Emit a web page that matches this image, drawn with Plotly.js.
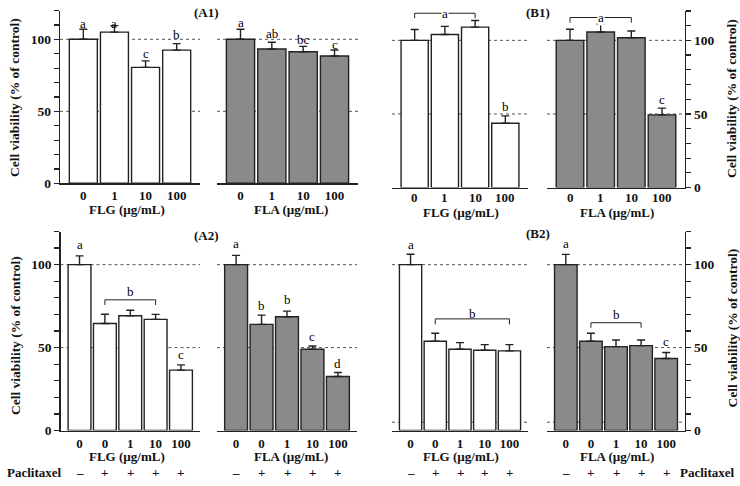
<!DOCTYPE html>
<html>
<head>
<meta charset="utf-8">
<script src="https://cdn.plot.ly/plotly-3.0.1.min.js"></script>
<style>html,body{margin:0;padding:0;background:#fff;}#chart{width:740px;height:486px;}</style>
</head>
<body>
<div id="chart"></div>
<script>
// ---------- data ----------
const doseRow1 = ['0', '1', '10', '100'];
const doseRow2 = ['0', '0', '1', '10', '100'];
const paclitaxel = ['–', '+', '+', '+', '+'];

const a1FLG = [100, 105, 80.5, 92.5];
const a1FLGerr = [7, 4.5, 4.5, 4.5];
const a1FLA = [100, 93.3, 91.4, 88.4];
const a1FLAerr = [7, 4.7, 3.7, 4.2];

const b1FLG = [100, 104, 109, 43.7];
const b1FLGerr = [7.4, 5.5, 4.5, 5];
const b1FLA = [100, 105.7, 101.8, 49.4];
const b1FLAerr = [7.5, 5.2, 4.6, 4.6];

const a2FLG = [100, 64.5, 69.2, 67, 36.4];
const a2FLGerr = [5.3, 5.6, 3.3, 3, 3.2];
const a2FLA = [100, 64, 68.6, 49, 32.6];
const a2FLAerr = [5.6, 5.6, 3.4, 2, 2.4];

const b2FLG = [100, 53.8, 49, 48.4, 48];
const b2FLGerr = [6.3, 4.8, 4, 3.4, 3.8];
const b2FLA = [100, 53.8, 50.6, 51.2, 43.4];
const b2FLAerr = [6.2, 4.8, 4, 3.4, 3.6];

const a1FLGletters = ['a', 'a', 'c', 'b'];
const a1FLAletters = ['a', 'ab', 'bc', 'c'];
const b1FLGletters = ['', '', '', 'b'];
const b1FLAletters = ['', '', '', 'c'];
const a2FLGletters = ['a', '', '', '', 'c'];
const a2FLAletters = ['a', 'b', 'b', 'c', 'd'];
const b2FLGletters = ['a', '', '', '', ''];
const b2FLAletters = ['a', '', '', '', 'c'];

// ---------- layout constants ----------
const W = 740, H = 486;
const FONT = 'Liberation Serif, Times New Roman, serif';
const GRAY = '#8a8a8a';
const INK = '#222';

const panels = [
  {x:[60,200], y:[10.5,183.3], cats:doseRow1, vals:a1FLG, errs:a1FLGerr, fill:'#ffffff', yside:'left',
   letters:a1FLGletters, letterY:[111.2,111.2,90.3,103], grids:[50,100]},
  {x:[217,358], y:[10.5,183.3], cats:doseRow1, vals:a1FLA, errs:a1FLAerr, fill:GRAY, yside:null,
   letters:a1FLAletters, letterY:[111.6,104,100,96.5], grids:[50,100]},
  {x:[392,528], y:[10.9,187.6], cats:doseRow1, vals:b1FLG, errs:b1FLGerr, fill:'#ffffff', yside:null,
   letters:b1FLGletters, letterY:[0,0,0,55.3], grids:[50,100], tickY:197.5,
   bracket:{from:0, to:2, top:118.4, drop:115, label:'a', inline:true}},
  {x:[547,685], y:[10.9,187.6], cats:doseRow1, vals:b1FLA, errs:b1FLAerr, fill:GRAY, yside:'right',
   letters:b1FLAletters, letterY:[0,0,0,60], grids:[50,100], tickY:197.5,
   bracket:{from:0, to:2, top:115.5, drop:112, label:'a', inline:true}},
  {x:[60.5,200], y:[231.5,430.5], cats:doseRow2, vals:a2FLG, errs:a2FLGerr, fill:'#ffffff', yside:'left',
   letters:a2FLGletters, letterY:[112,0,0,0,45.6], grids:[50,100],
   bracket:{from:1, to:3, top:78.8, drop:75.7, label:'b', labelY:83.8}},
  {x:[217,357], y:[231.5,430.5], cats:doseRow2, vals:a2FLA, errs:a2FLAerr, fill:GRAY, yside:null,
   letters:a2FLAletters, letterY:[112.7,75.2,78.8,56.6,40.6], grids:[50,100]},
  {x:[392,528], y:[231.5,430.5], cats:doseRow2, vals:b2FLG, errs:b2FLGerr, fill:'#ffffff', yside:null,
   letters:b2FLGletters, letterY:[112,0,0,0,0], grids:[5,100],
   bracket:{from:1, to:4, top:67.3, drop:64, label:'b', labelY:70.7}},
  {x:[547,685], y:[231.5,430.5], cats:doseRow2, vals:b2FLA, errs:b2FLAerr, fill:GRAY, yside:'right',
   letters:b2FLAletters, letterY:[112.5,0,0,0,53.6], grids:[5,50,100],
   bracket:{from:1, to:3, top:65, drop:62, label:'b', labelY:69.9}}
];

const yTickVals = [0,10,20,30,40,50,60,70,80,90,100,110,120];
const yTickText = yTickVals.map(v => (v % 50 === 0 && v <= 100) ? String(v) : '');

const px = x => x / W;
const py = y => 1 - y / H;

const traces = [];
const layout = {
  width: W, height: H, autosize: false,
  margin: {l:0, r:0, t:0, b:0, pad:0},
  paper_bgcolor: '#fff', plot_bgcolor: 'rgba(0,0,0,0)',
  showlegend: false, bargap: 0.1,
  font: {family: FONT, color: INK},
  shapes: [], annotations: []
};

const boldFont = (size) => ({family: FONT, size: size, color: '#111', weight: 'bold'});

panels.forEach((p, k) => {
  const s = k === 0 ? '' : String(k + 1);
  const xa = 'x' + s, ya = 'y' + s;
  const idx = p.cats.map((c, i) => i);
  traces.push({
    type: 'bar', x: idx, y: p.vals, xaxis: xa, yaxis: ya,
    marker: {color: p.fill, line: {color: INK, width: 1.4}},
    error_y: {type: 'data', symmetric: false, array: p.errs, arrayminus: p.errs.map(() => 0),
              color: INK, thickness: 1.4, width: 4},
    hoverinfo: 'skip'
  });
  layout['xaxis' + s] = {
    domain: [px(p.x[0]), px(p.x[1])], range: [-0.75, p.cats.length - 0.25], anchor: ya,
    showline: true, linecolor: INK, linewidth: 1.4, ticks: '', showgrid: false, zeroline: false,
    tickvals: idx, ticktext: p.cats, showticklabels: !p.tickY,
    tickfont: boldFont(13), fixedrange: true
  };
  if (p.tickY) {
    p.cats.forEach((c, i) => {
      layout.annotations.push({xref: xa, yref: 'paper', x: i, y: py(p.tickY), text: c, showarrow: false,
        yanchor: 'middle', borderpad: 0, font: boldFont(13)});
    });
  }
  layout['yaxis' + s] = {
    domain: [py(p.y[1]), py(p.y[0])], range: [0, 120], anchor: xa,
    visible: !!p.yside, side: p.yside || 'left',
    showline: true, linecolor: INK, linewidth: 1.4,
    ticks: 'outside', ticklen: 5, tickwidth: 1.2, tickcolor: INK,
    tickvals: yTickVals, ticktext: yTickText, tickfont: boldFont(13.5),
    showgrid: false, zeroline: false, fixedrange: true
  };
  p.grids.forEach(g => {
    layout.shapes.push({type: 'line', layer: 'below', xref: xa + ' domain', yref: ya,
      x0: 0, x1: 1, y0: g, y1: g, line: {color: '#555', width: 1, dash: 'dot'}});
  });
  p.letters.forEach((t, i) => {
    if (!t) return;
    layout.annotations.push({xref: xa, yref: ya, x: i, y: p.letterY[i], text: t, showarrow: false,
      yanchor: 'middle', font: {family: FONT, size: 13, color: '#000'}});
  });
  if (p.bracket) {
    const b = p.bracket;
    layout.shapes.push({type: 'path', xref: xa, yref: ya, layer: 'above',
      path: `M ${b.from},${b.drop} L ${b.from},${b.top} L ${b.to},${b.top} L ${b.to},${b.drop}`,
      line: {color: INK, width: 1}});
    const cx = (b.from + b.to) / 2;
    layout.annotations.push({xref: xa, yref: ya, x: cx, y: b.inline ? b.top : b.labelY, text: b.label,
      showarrow: false, yanchor: 'middle', bgcolor: b.inline ? '#fff' : 'rgba(0,0,0,0)',
      borderpad: 0, font: {family: FONT, size: 13, color: '#000'}});
  }
  if (p.cats.length === 5) {
    paclitaxel.forEach((sg, i) => {
      layout.annotations.push({xref: xa, yref: 'paper', x: i, y: py(472), text: sg, showarrow: false,
        yanchor: 'middle', font: boldFont(13)});
    });
  }
});

function txt(x, y, text, opts) {
  layout.annotations.push(Object.assign({xref: 'paper', yref: 'paper', x: px(x), y: py(y), text: text,
    showarrow: false, xanchor: 'center', yanchor: 'middle', borderpad: 0, font: boldFont(13)}, opts || {}));
}
const xTitles = ['FLG (µg/mL)', 'FLA (µg/mL)', 'FLG (µg/mL)', 'FLA (µg/mL)'];
const xTitleX = [127, 291, 461, 617];
xTitles.forEach((t, i) => { txt(xTitleX[i], i < 2 ? 209.5 : 212, t); txt(xTitleX[i], 456, t); });

const panelTags = ['(A1)', '(B1)', '(A2)', '(B2)'];
txt(207, 12.7, panelTags[0]);
txt(538, 12.7, panelTags[1]);
txt(207, 235, panelTags[2]);
txt(538, 233.3, panelTags[3]);

const yTitle = 'Cell viability (% of control)';
txt(15, 98, yTitle, {textangle: -90, font: boldFont(13.5)});
txt(15, 336, yTitle, {textangle: -90, font: boldFont(13.5)});
txt(731.5, 98.5, yTitle, {textangle: -90, font: boldFont(13.5)});
txt(731.5, 328, yTitle, {textangle: -90, font: boldFont(13.5)});

txt(34, 472, 'Paclitaxel');
txt(707.5, 472, 'Paclitaxel');

Plotly.newPlot('chart', traces, layout, {displayModeBar: false, staticPlot: true});
</script>
</body>
</html>
